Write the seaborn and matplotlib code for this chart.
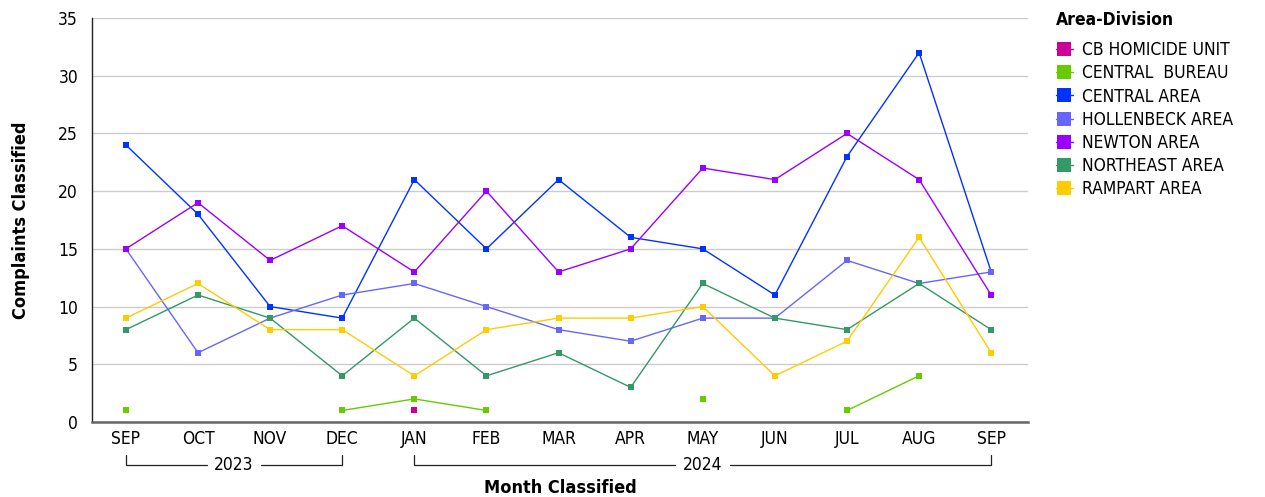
import numpy as np
import pandas as pd
import seaborn as sns
import matplotlib.pyplot as plt
from matplotlib.lines import Line2D
import matplotlib.transforms as mtransforms

MONTHS = ['SEP', 'OCT', 'NOV', 'DEC', 'JAN', 'FEB', 'MAR', 'APR', 'MAY', 'JUN', 'JUL', 'AUG', 'SEP']
YEARS = [('2023', 0, 3), ('2024', 4, 12)]

nan = np.nan
cb_homicide = [nan, nan, nan, nan, 1, nan, nan, nan, nan, nan, nan, nan, nan]
central_bureau = [1, nan, nan, 1, 2, 1, nan, nan, 2, nan, 1, 4, nan]
central_area = [24, 18, 10, 9, 21, 15, 21, 16, 15, 11, 23, 32, 13]
hollenbeck = [15, 6, 9, 11, 12, 10, 8, 7, 9, 9, 14, 12, 13]
newton = [15, 19, 14, 17, 13, 20, 13, 15, 22, 21, 25, 21, 11]
northeast = [8, 11, 9, 4, 9, 4, 6, 3, 12, 9, 8, 12, 8]
rampart = [9, 12, 8, 8, 4, 8, 9, 9, 10, 4, 7, 16, 6]

DIVISIONS = ['CB HOMICIDE UNIT', 'CENTRAL  BUREAU', 'CENTRAL AREA', 'HOLLENBECK AREA',
             'NEWTON AREA', 'NORTHEAST AREA', 'RAMPART AREA']
SERIES = [cb_homicide, central_bureau, central_area, hollenbeck, newton, northeast, rampart]
COLORS = ['#CC0099', '#66CC00', '#0033FF', '#6666FF', '#9900FF', '#339966', '#FFCC00']

# long-form table, with a segment id so gaps (missing months) break the line
rows = []
for name, vals in zip(DIVISIONS, SERIES):
    seg = 0
    prev_nan = True
    for i, v in enumerate(vals):
        if np.isnan(v):
            prev_nan = True
            continue
        if prev_nan:
            seg += 1
        prev_nan = False
        rows.append({'x': i, 'value': v, 'division': name, 'seg': f'{name}-{seg}'})
df = pd.DataFrame(rows)

sns.set_style('white')
plt.rcParams['font.family'] = ['DejaVu Sans']
plt.rcParams['font.stretch'] = 'condensed'
for key in ['text.color', 'axes.labelcolor', 'xtick.color', 'ytick.color']:
    plt.rcParams[key] = 'black'

fig = plt.figure(figsize=(12.65, 4.97), dpi=100)
ax = fig.add_axes([92 / 1265, 75 / 497, 936 / 1265, 404 / 497])

palette = dict(zip(DIVISIONS, COLORS))
sns.lineplot(data=df, x='x', y='value', hue='division', units='seg', estimator=None,
             palette=palette, hue_order=DIVISIONS, marker='s', markersize=5,
             markeredgewidth=0, linewidth=1.0, legend=False, ax=ax, zorder=3)

ax.set_xlim(-0.47, 12.51)
ax.set_ylim(0, 35)
ax.set_yticks(range(0, 36, 5))
ax.set_xticks(range(len(MONTHS)))
ax.set_xticklabels(MONTHS, fontsize=12.5)
ax.tick_params(axis='y', labelsize=12.5, length=0, pad=10)
ax.tick_params(axis='x', length=0, pad=6)
ax.yaxis.grid(True, color='#cccccc', linewidth=1.0)
ax.set_axisbelow(True)
for s in ['top', 'right']:
    ax.spines[s].set_visible(False)
ax.spines['left'].set_color('#222222')
ax.spines['left'].set_linewidth(1.0)
ax.spines['bottom'].set_color('#666666')
ax.spines['bottom'].set_linewidth(1.8)

ax.set_ylabel('Complaints Classified', fontsize=13, fontweight='bold')
ax.yaxis.set_label_coords(-62 / 936, 0.5)
ax.set_xlabel('Month Classified', fontsize=13, fontweight='bold', va='center')
ax.xaxis.set_label_coords(0.5, -66 / 404)

# year brackets under the month labels
trans = mtransforms.blended_transform_factory(ax.transData, ax.transAxes)
y_line = -43 / 404
y_top = -33 / 404
for label, a, b in YEARS:
    mid = (a + b) / 2
    half = 0.38
    ax.plot([a, a, mid - half], [y_top, y_line, y_line], color='#222222', lw=0.9,
            transform=trans, clip_on=False)
    ax.plot([mid + half, b, b], [y_line, y_line, y_top], color='#222222', lw=0.9,
            transform=trans, clip_on=False)
    ax.text(mid, y_line, label, transform=trans, ha='center', va='center', fontsize=12.5)

handles = [Line2D([], [], color=c, marker='s', markersize=10, markeredgewidth=0, linewidth=1.0)
           for c in COLORS]
leg = fig.legend(handles, DIVISIONS, title='Area-Division', loc='upper left',
                 bbox_to_anchor=(1040 / 1265, 1 + 5 / 497), frameon=False,
                 fontsize=12.5, title_fontproperties={'weight': 'bold', 'size': 12.5},
                 handlelength=1.0, handletextpad=0.5, labelspacing=0.3, alignment='left')
leg._legend_box.sep = 9

fig.savefig('out.png', dpi=100)
